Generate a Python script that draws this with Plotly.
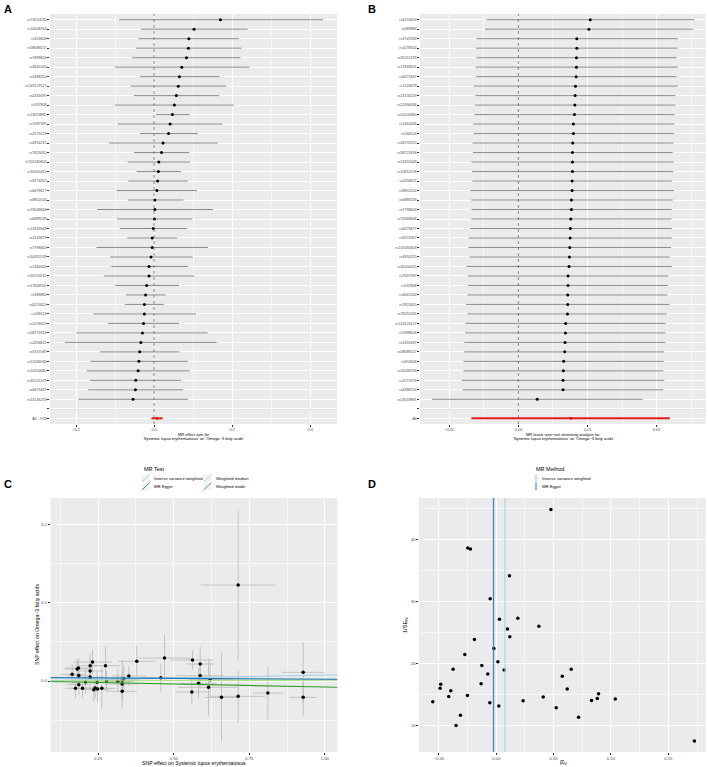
import numpy as np
import plotly.graph_objects as go

W, H = 708, 767
FONT = "Liberation Sans, Arial, sans-serif"
TICKC = "#4D4D4D"

# ---------------- Panel A : single SNP forest ----------------
A_snps = ["rs73050535","rs10048743","rs353608","rs58688157","rs7899626","rs4661543","rs4388254",
          "rs143123127","rs2431697","rs597808","rs13019891","rs7097397","rs2573219","rs4916215",
          "rs7823055","rs150180603","rs35000415","rs9274357","rs6679677","rs9852014","rs73068668",
          "rs6889239","rs13332649","rs1143679","rs7798603","rs10912578","rs1464446","rs34703115",
          "rs17849501","rs389884","rs4274624","rs268124","rs1078324","rs58721818","rs2458611",
          "rs3747093","rs12094036","rs10200680","rs35251378","rs6671847","rs13136219"]
A_b = [0.170,0.1025,0.089,0.088,0.083,0.071,0.065,0.062,0.057,0.052,0.047,0.041,0.037,0.023,
       0.019,0.012,0.011,0.009,0.007,0.002,0.002,0.001,-0.002,-0.005,-0.005,-0.008,-0.013,-0.013,
       -0.019,-0.022,-0.025,-0.025,-0.027,-0.030,-0.034,-0.037,-0.039,-0.041,-0.047,-0.048,-0.054]
A_lo = [-0.090,-0.034,-0.040,-0.047,-0.056,-0.101,-0.036,-0.060,-0.052,-0.100,0.005,-0.093,-0.037,
        -0.116,-0.052,-0.068,-0.045,-0.066,-0.096,-0.068,-0.146,-0.095,-0.088,-0.069,-0.148,-0.113,
        -0.110,-0.129,-0.100,-0.072,-0.075,-0.156,-0.119,-0.199,-0.229,-0.139,-0.163,-0.173,-0.164,
        -0.169,-0.194]
A_hi = [0.433,0.240,0.218,0.224,0.222,0.244,0.168,0.185,0.167,0.204,0.091,0.175,0.112,0.163,0.090,
        0.092,0.069,0.086,0.110,0.075,0.151,0.098,0.085,0.059,0.138,0.099,0.087,0.103,0.064,0.029,
        0.025,0.107,0.064,0.137,0.161,0.065,0.086,0.092,0.069,0.075,0.087]
A_all_label = "All - IVW"

# IVW overall estimate
ivw_b, ivw_lo, ivw_hi = 0.0076, -0.0068, 0.0219

# ---------------- Panel B : leave-one-out ----------------
B_snps = ["rs4274624","rs389884","rs3747093","rs1078324","rs35251378","rs17849501","rs6671847",
          "rs1143679","rs13136219","rs12094036","rs10200680","rs1464446","rs268124","rs34703115",
          "rs58721818","rs13332649","rs10912578","rs2458611","rs9852014","rs6889239","rs7798603",
          "rs73068668","rs6679677","rs9274357","rs150180603","rs4916215","rs35000415","rs7097397",
          "rs597808","rs4661543","rs7823055","rs73050535","rs143123127","rs7899626","rs2431697",
          "rs58688157","rs353608","rs10048743","rs2573219","rs4388254","rs13019891"]
B_b = [0.01039,0.01019,0.00845,0.00845,0.0084,0.0084,0.00835,0.00825,0.0082,0.00816,0.00811,0.00796,
       0.00796,0.00786,0.00782,0.00782,0.00782,0.00777,0.00777,0.00767,0.00767,0.00757,0.00752,
       0.00748,0.00743,0.00738,0.00733,0.00718,0.00718,0.00714,0.00714,0.00709,0.00684,0.0068,
       0.00675,0.0067,0.00655,0.0065,0.00646,0.00646,0.00272]
B_lo = [-0.00461,-0.00481,-0.00607,-0.00612,-0.00607,-0.00621,-0.00612,-0.00646,-0.00626,-0.00631,
        -0.00636,-0.00655,-0.0065,-0.00665,-0.0066,-0.0068,-0.0067,-0.00665,-0.00694,-0.00684,
        -0.0068,-0.00684,-0.00699,-0.00718,-0.00723,-0.00709,-0.00752,-0.00733,-0.00728,-0.00738,
        -0.00757,-0.00738,-0.00767,-0.00772,-0.00782,-0.00782,-0.00796,-0.00796,-0.0082,-0.00806,
        -0.01248]
B_hi = [0.02544,0.02524,0.02306,0.02306,0.02291,0.02306,0.02291,0.02306,0.02272,0.02272,0.02262,
        0.02257,0.02248,0.02243,0.02233,0.02248,0.02238,0.02223,0.02248,0.02233,0.02218,0.02214,
        0.02218,0.02218,0.02209,0.02189,0.02218,0.0217,0.02165,0.02155,0.02184,0.0215,0.02131,
        0.02126,0.02126,0.02112,0.02102,0.02097,0.02112,0.02097,0.01796]
B_all_label = "All"

# ---------------- Panel C : scatter ----------------
C_bx = [0.164,0.175,0.1805,0.1849,0.186,0.186,0.1982,0.2081,0.2235,0.2235,0.2235,0.2313,0.2357,
        0.2467,0.2478,0.2621,0.2743,0.2776,0.3151,0.3294,0.3294,0.3349,0.3515,0.3779,0.4573,0.4695,
        0.5621,0.5599,0.5820,0.5875,0.5875,0.6151,0.6206,0.6581,0.7132,0.7132,0.8114,0.9283,0.9283,
        0.240,0.330]
C_by = [0.0085,-0.0094,0.0154,0.0166,0.0072,-0.0047,-0.0094,-0.0013,0.0196,0.0128,0.0051,0.0243,
        -0.0111,-0.0017,-0.0102,-0.0094,0.0196,0.0,-0.0004,-0.0038,-0.0132,0.0026,0.0064,0.0252,
        0.0043,0.0294,0.0269,-0.0141,-0.0030,0.0217,0.0068,-0.0081,0.0017,-0.0209,0.1228,-0.0196,
        -0.0154,0.0111,-0.0209,-0.0090,0.0008]
C_bx_se = [0.040,0.035,0.040,0.045,0.040,0.040,0.040,0.040,0.050,0.045,0.045,0.064,0.045,0.045,
           0.045,0.045,0.050,0.050,0.050,0.055,0.050,0.050,0.055,0.061,0.060,0.085,0.070,0.055,
           0.060,0.045,0.080,0.100,0.070,0.055,0.123,0.090,0.050,0.070,0.045,0.040,0.050]
C_by_se = [0.0128,0.0127,0.0129,0.0123,0.0128,0.0126,0.0119,0.0153,0.0156,0.0125,0.0160,0.0163,
           0.0148,0.0135,0.0169,0.0263,0.0243,0.0137,0.0141,0.0168,0.0212,0.0177,0.0129,0.0199,
           0.0179,0.0296,0.0125,0.0145,0.0192,0.0226,0.0172,0.0368,0.0229,0.0566,0.0956,0.0333,
           0.0340,0.0382,0.0242,0.0126,0.0252]
C_methods = ["Inverse variance weighted", "MR Egger", "Weighted median", "Weighted mode"]
C_slopes = [0.0076, -0.0023, 0.0010, -0.0077]
C_intercepts = [0.0, 0.0045, 0.0, 0.0]
C_colors = ["#A6CEE3", "#1F78B4", "#B2DF8A", "#33A02C"]

# ---------------- Panel D : funnel ----------------
D_b = [0.0477,-0.0247,-0.0224,0.0116,-0.0052,0.0029,0.0189,0.0372,0.0099,0.0119,-0.0189,-0.0020,
       -0.0273,0.0015,-0.0375,0.0654,-0.0125,0.0070,-0.0073,0.0576,-0.0131,-0.0483,-0.0488,0.0619,
       -0.0395,0.0892,-0.0413,-0.0250,0.0410,0.0881,0.1038,0.0831,0.0235,-0.0552,-0.0055,0.0023,
       0.0523,-0.0311,0.0718,-0.0349,0.1727]
D_invse = [44.81,38.59,38.43,34.11,30.38,27.08,27.24,25.95,25.51,24.27,23.84,22.38,21.41,20.22,
           19.03,19.03,19.62,18.92,18.27,17.89,16.70,16.59,15.95,15.84,15.57,15.08,14.65,14.81,
           14.54,14.32,14.22,14.00,13.95,13.78,13.62,13.08,12.81,11.62,11.30,9.95,7.46]
D_methods = ["Inverse variance weighted", "MR Egger"]
D_vals = [0.0077, -0.0023]
D_colors = ["#A6CEE3", "#1F78B4"]


def fx(x):
    return x / W


def fy(y):
    return 1 - y / H


fig = go.Figure()

# ---- A traces
A_pos = np.arange(1, len(A_snps) + 1)
A_all_pos = len(A_snps) + 2
A_b_arr, A_lo_arr, A_hi_arr = map(np.array, (A_b, A_lo, A_hi))
fig.add_trace(go.Scatter(
    x=A_b_arr, y=A_pos, mode="markers", xaxis="x", yaxis="y",
    marker=dict(color="black", size=3),
    error_x=dict(type="data", symmetric=False, array=A_hi_arr - A_b_arr,
                 arrayminus=A_b_arr - A_lo_arr, color="#7F7F7F", thickness=0.9, width=0),
    showlegend=False, hoverinfo="skip"))
fig.add_trace(go.Scatter(
    x=[ivw_b], y=[A_all_pos], mode="markers", xaxis="x", yaxis="y",
    marker=dict(color="#E41A1C", size=3),
    error_x=dict(type="data", symmetric=False, array=[ivw_hi - ivw_b],
                 arrayminus=[ivw_b - ivw_lo], color="#E41A1C", thickness=2, width=0),
    showlegend=False, hoverinfo="skip"))

# ---- B traces
B_pos = np.arange(1, len(B_snps) + 1)
B_all_pos = len(B_snps) + 2
B_b_arr, B_lo_arr, B_hi_arr = map(np.array, (B_b, B_lo, B_hi))
fig.add_trace(go.Scatter(
    x=B_b_arr, y=B_pos, mode="markers", xaxis="x2", yaxis="y2",
    marker=dict(color="black", size=3),
    error_x=dict(type="data", symmetric=False, array=B_hi_arr - B_b_arr,
                 arrayminus=B_b_arr - B_lo_arr, color="#7F7F7F", thickness=0.9, width=0),
    showlegend=False, hoverinfo="skip"))
fig.add_trace(go.Scatter(
    x=[ivw_b], y=[B_all_pos], mode="markers", xaxis="x2", yaxis="y2",
    marker=dict(color="#E41A1C", size=3),
    error_x=dict(type="data", symmetric=False, array=[ivw_hi - ivw_b],
                 arrayminus=[ivw_b - ivw_lo], color="#E41A1C", thickness=2, width=0),
    showlegend=False, hoverinfo="skip"))

# ---- C traces
C_xrange = [0.0923, 1.0419]
C_yrange = [-0.0908, 0.2341]
fig.add_trace(go.Scatter(
    x=C_bx, y=C_by, mode="markers", xaxis="x3", yaxis="y3",
    marker=dict(color="black", size=3.5),
    error_x=dict(type="data", array=C_bx_se, color="#BEBEBE", thickness=0.9, width=0),
    error_y=dict(type="data", array=C_by_se, color="#BEBEBE", thickness=0.9, width=0),
    showlegend=False, hoverinfo="skip"))
xs = np.array(C_xrange)
for name, s, a, c in zip(C_methods, C_slopes, C_intercepts, C_colors):
    fig.add_trace(go.Scatter(x=xs, y=a + s * xs, mode="lines", xaxis="x3", yaxis="y3",
                             line=dict(color=c, width=1.1), name=name,
                             showlegend=False, hoverinfo="skip"))

# ---- D traces
D_yrange = [5.68, 46.65]
fig.add_trace(go.Scatter(
    x=D_b, y=D_invse, mode="markers", xaxis="x4", yaxis="y4",
    marker=dict(color="black", size=3.5), showlegend=False, hoverinfo="skip"))
for name, v, c, w in zip(D_methods, D_vals, D_colors, [1.0, 1.3]):
    fig.add_trace(go.Scatter(x=[v, v], y=D_yrange, mode="lines", xaxis="x4", yaxis="y4",
                             line=dict(color=c, width=w), name=name, opacity=0.85 if w > 1.1 else 1,
                             showlegend=False, hoverinfo="skip"))

# ---- axes
def xax(domain, anchor, rng, tv, tt, minor, fs):
    return dict(domain=domain, anchor=anchor, range=rng, tickvals=tv, ticktext=tt,
                showgrid=True, gridcolor="white", gridwidth=0.9, zeroline=False,
                ticks="outside", ticklen=1.6, tickwidth=0.5, tickcolor="#333333",
                tickfont=dict(size=fs, color=TICKC, family=FONT), showline=False,
                minor=dict(tickvals=minor, showgrid=True, gridcolor="#F7F7F7", gridwidth=0.45,
                           ticks=""),
                automargin=False, fixedrange=True)


AB_ydom = [fy(424), fy(14)]
CD_ydom = [fy(752), fy(498)]
A_tv = list(A_pos) + [A_all_pos - 1, A_all_pos]
A_tt = A_snps + [" ", A_all_label]
B_tv = list(B_pos) + [B_all_pos - 1, B_all_pos]
B_tt = B_snps + [" ", B_all_label]

fig.update_layout(
    width=W, height=H, margin=dict(l=0, r=0, t=0, b=0),
    paper_bgcolor="white", plot_bgcolor="#EBEBEB",
    font=dict(family=FONT, color="black"),
    xaxis=xax([fx(50), fx(337)], "y", [-0.267, 0.469], [-0.2, 0, 0.2, 0.4],
              ["\u22120.2", "0.0", "0.2", "0.4"], [-0.1, 0.1, 0.3], 3.9),
    yaxis=xax(AB_ydom, "x", [A_all_pos + 0.6, 0.4], A_tv, A_tt, [], 3.7),
    xaxis2=xax([fx(420), fx(706)], "y2", [-0.01424, 0.02714], [-0.01, 0, 0.01, 0.02],
               ["\u22120.01", "0.00", "0.01", "0.02"], [-0.005, 0.005, 0.015, 0.025], 3.9),
    yaxis2=xax(AB_ydom, "x2", [B_all_pos + 0.6, 0.4], B_tv, B_tt, [], 3.7),
    xaxis3=xax([fx(50.5), fx(337.5)], "y3", C_xrange, [0.25, 0.5, 0.75, 1.0],
               ["0.25", "0.50", "0.75", "1.00"], [0.125, 0.375, 0.625, 0.875], 4.2),
    yaxis3=xax(CD_ydom, "x3", C_yrange, [0, 0.1, 0.2], ["0.0", "0.1", "0.2"],
               [-0.05, 0.05, 0.15], 4.2),
    xaxis4=xax([fx(419), fx(706)], "y4", [-0.0672, 0.1828], [-0.05, 0, 0.05, 0.10, 0.15],
               ["\u22120.05", "0.00", "0.05", "0.10", "0.15"],
               [-0.025, 0.025, 0.075, 0.125, 0.175], 4.2),
    yaxis4=xax(CD_ydom, "x4", D_yrange, [10, 20, 30, 40], ["10", "20", "30", "40"],
               [15, 25, 35, 45], 4.2),
)

shapes = []
for xr, yr, sep in (("x", "y", A_all_pos - 1), ("x2", "y2", B_all_pos - 1)):
    shapes.append(dict(type="line", xref=xr, yref=yr + " domain", x0=0, x1=0, y0=0, y1=1,
                       line=dict(color="#555555", width=0.7, dash="dot"), layer="above"))
    shapes.append(dict(type="line", xref=xr + " domain", yref=yr, x0=0, x1=1, y0=sep, y1=sep,
                       line=dict(color="#BEBEBE", width=0.8), layer="below"))

annotations = []


def txt(x, y, s, size, xanchor="left", yanchor="middle", angle=0, color="black"):
    annotations.append(dict(x=fx(x), y=fy(y), xref="paper", yref="paper", text=s,
                            showarrow=False, xanchor=xanchor, yanchor=yanchor, textangle=angle,
                            font=dict(size=size, family=FONT, color=color)))


# panel letters
for lab, x, y in (("A", 2, 8.5), ("B", 366, 8.5), ("C", 2, 484), ("D", 366, 484)):
    txt(x, y, "<b>%s</b>" % lab, 11)

# A / B axis titles
txt(193.5, 434.5, "MR effect size for", 4.0, xanchor="center")
txt(193.5, 438.8, "'Systemic lupus erythematosus' on 'Omega\u22123 fatty acids'", 4.0, xanchor="center")
txt(563, 434.5, "MR leave\u2212one\u2212out sensitivity analysis for", 4.0, xanchor="center")
txt(563, 438.8, "'Systemic lupus erythematosus' on 'Omega\u22123 fatty acids'", 4.0, xanchor="center")

# C / D axis titles
txt(194, 762.5, "SNP effect on Systemic lupus erythematosus", 5.2, xanchor="center")
txt(37, 625, "SNP effect on Omega\u22123 fatty acids", 5.2, xanchor="center", angle=-90)
txt(563, 762, "\u03b2\u0302<sub>IV</sub>", 5.6, xanchor="center")
txt(405, 625, "1/SE<sub>IV</sub>", 5.6, xanchor="center", angle=-90)

# C legend (abline keys)
txt(141.7, 469.3, "MR Test", 5.5)
C_key_pos = [(141.7, 478.3), (141.7, 486.3), (203.3, 478.3), (203.3, 486.3)]
for (kx, ky), name, c in zip(C_key_pos, C_methods, C_colors):
    shapes.append(dict(type="rect", xref="paper", yref="paper", x0=fx(kx), x1=fx(kx + 8.3),
                       y0=fy(ky + 4), y1=fy(ky - 4), fillcolor="#F2F2F2",
                       line=dict(color="white", width=0.5)))
    shapes.append(dict(type="line", xref="paper", yref="paper", x0=fx(kx + 0.4), x1=fx(kx + 7.9),
                       y0=fy(ky + 3.6), y1=fy(ky - 3.6), line=dict(color=c, width=0.9)))
    txt(kx + 10.3, ky, name, 4.2)

# D legend (vline keys)
txt(534, 469.3, "MR Method", 5.5)
D_key_pos = [(533.5, 478.3), (533.5, 486.3)]
for (kx, ky), name, c in zip(D_key_pos, D_methods, D_colors):
    shapes.append(dict(type="rect", xref="paper", yref="paper", x0=fx(kx), x1=fx(kx + 5),
                       y0=fy(ky + 4), y1=fy(ky - 4), fillcolor="#F2F2F2",
                       line=dict(color="white", width=0.5)))
    shapes.append(dict(type="line", xref="paper", yref="paper", x0=fx(kx + 2.5), x1=fx(kx + 2.5),
                       y0=fy(ky + 3.8), y1=fy(ky - 3.8), line=dict(color=c, width=0.9)))
    txt(kx + 6.3, ky, name, 4.2)

fig.update_layout(shapes=shapes, annotations=annotations)
fig.write_html("out.html", config={"displayModeBar": False},
               post_script="document.body.style.margin='0';"
                           "document.documentElement.style.overflow='hidden';")
